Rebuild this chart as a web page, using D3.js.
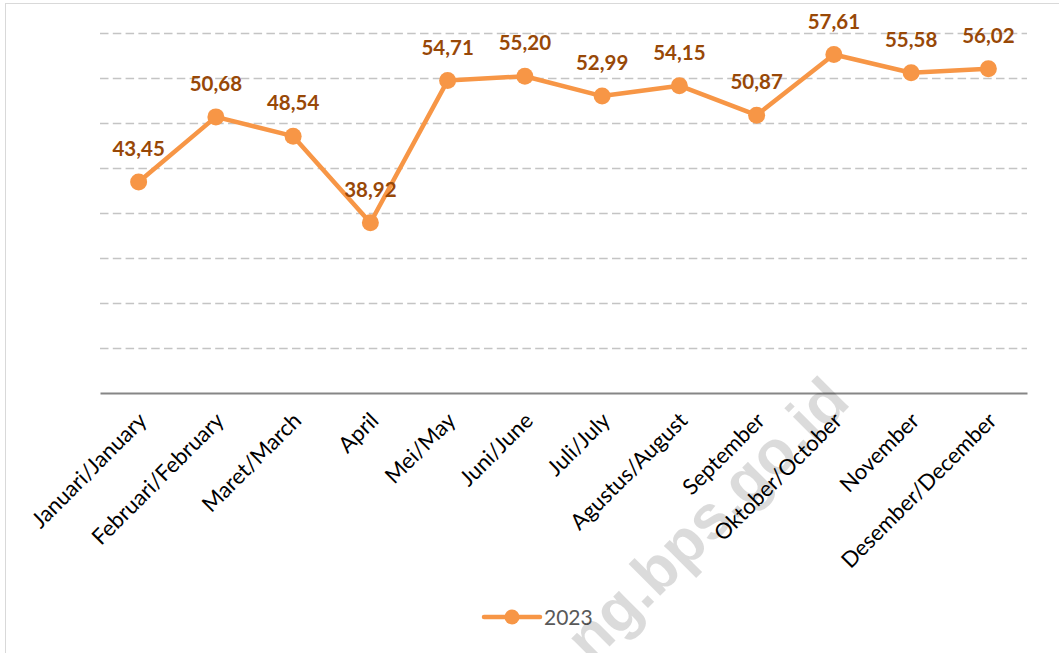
<!DOCTYPE html>
<html>
<head>
<meta charset="utf-8">
<script src="https://cdn.jsdelivr.net/npm/d3@7"></script>
<style>
  html, body { margin: 0; padding: 0; background: #fff; }
  svg { display: block; }
</style>
</head>
<body>
<svg id="chart" width="1059" height="653"></svg>
<script>
const categories = ["Januari/January", "Februari/February", "Maret/March", "April", "Mei/May", "Juni/June",
  "Juli/July", "Agustus/August", "September", "Oktober/October", "November", "Desember/December"];
const values2023 = [43.45, 50.68, 48.54, 38.92, 54.71, 55.20, 52.99, 54.15, 50.87, 57.61, 55.58, 56.02];
const seriesName = "2023";
const yTicks = [25, 30, 35, 40, 45, 50, 55, 60];
const watermark = "ng.bps.go.id";

(function () {
const svg = d3.select("#chart");
const W = 1059, H = 653;
const pLeft = 100, pRight = 1027, pTop = 33, pBottom = 393;

// frame
svg.append("rect").attr("x", 5.5).attr("y", 3.5).attr("width", W + 20).attr("height", H + 20)
  .attr("fill", "#fff").attr("stroke", "#d9d9d9").attr("stroke-width", 1);

const x = d3.scalePoint().domain(categories).range([pLeft, pRight]).padding(0.5);
const y = d3.scaleLinear().domain([20, 60]).range([pBottom, pTop]);

// gridlines
const grid = svg.append("g").attr("transform", `translate(${pLeft},0)`)
  .call(d3.axisLeft(y).tickValues(yTicks).tickSize(-(pRight - pLeft)).tickFormat(""));
grid.select(".domain").remove();
grid.selectAll(".tick line").attr("stroke", "#c4c4c4").attr("stroke-width", 1.5)
  .attr("stroke-dasharray", "8.5,4.3");

// x axis
const xAxis = svg.append("g").attr("transform", `translate(0,${pBottom})`)
  .call(d3.axisBottom(x).tickSize(0).tickSizeOuter(0));
xAxis.select(".domain").attr("stroke", "#868686").attr("stroke-width", 2);
xAxis.selectAll(".tick text")
  .attr("font-family", "Lato, 'Open Sans', sans-serif")
  .attr("font-size", 22)
  .attr("fill", "#000")
  .attr("text-anchor", "end")
  .attr("dy", 0)
  .attr("y", 0)
  .attr("transform", "translate(9,29) rotate(-45)");

// line
const line = d3.line().x((d, i) => x(categories[i])).y(d => y(d));
svg.append("path").datum(values2023).attr("d", line)
  .attr("fill", "none").attr("stroke", "#f79646").attr("stroke-width", 4.5)
  .attr("stroke-linejoin", "round");

svg.append("g").selectAll("circle").data(values2023).join("circle")
  .attr("cx", (d, i) => x(categories[i])).attr("cy", d => y(d)).attr("r", 8.5)
  .attr("fill", "#f79646");

// data labels
const fmt = v => v.toFixed(2).replace(".", ",");
svg.append("g").selectAll("text").data(values2023).join("text")
  .attr("x", (d, i) => x(categories[i])).attr("y", d => y(d) - 26)
  .attr("text-anchor", "middle")
  .attr("font-family", "Lato, 'Open Sans', sans-serif")
  .attr("font-weight", "bold").attr("font-size", 20.5)
  .attr("fill", "#984807")
  .text(d => fmt(d));

// legend
const lg = svg.append("g").attr("transform", "translate(484,617)");
lg.append("line").attr("x1", 0).attr("x2", 56).attr("y1", 0).attr("y2", 0)
  .attr("stroke", "#f79646").attr("stroke-width", 4.5).attr("stroke-linecap", "round");
lg.append("circle").attr("cx", 28).attr("cy", 0).attr("r", 7.5).attr("fill", "#f79646");
lg.append("text").attr("x", 60).attr("y", 7.5)
  .attr("font-family", "Lato, 'Open Sans', sans-serif").attr("font-size", 21)
  .attr("fill", "#595959").text(seriesName);

// watermark
svg.append("text")
  .attr("transform", "translate(852,404) rotate(-45)")
  .attr("text-anchor", "end")
  .attr("font-family", "'Liberation Sans', Arial, sans-serif")
  .attr("font-weight", "bold").attr("font-size", 62)
  .attr("fill", "#000").attr("fill-opacity", 0.14)
  .text(watermark);
})();
</script>
</body>
</html>
